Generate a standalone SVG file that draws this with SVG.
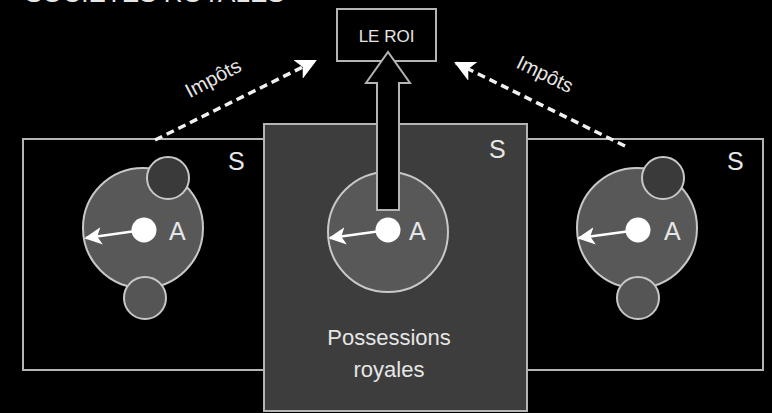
<svg xmlns="http://www.w3.org/2000/svg" width="772" height="413" viewBox="0 0 772 413">
<style>
text{font-family:"Liberation Sans",Arial,sans-serif;fill:#e6e6e6}
.box{stroke:#b4b4b4;stroke-width:2}
.big{fill:#585858;stroke:#c8c8c8;stroke-width:2}
.sm1{fill:#3a3a3a;stroke:#c8c8c8;stroke-width:2}
.sm2{fill:#555;stroke:#c8c8c8;stroke-width:2}
.dot{fill:#fff}
.lbl{font-size:25px}
.vec{stroke:#fff;stroke-width:2.5;fill:none}
.dash{stroke:#f0f0f0;stroke-width:3.5;stroke-dasharray:8 5;fill:none}
</style>
<defs>
<marker id="wh" viewBox="0 0 10 10" refX="9" refY="5" markerWidth="7" markerHeight="7" orient="auto" markerUnits="strokeWidth">
<path d="M0,0 L10,5 L0,10 L2.5,5 z" fill="#fff"/>
</marker>
<marker id="dh" viewBox="0 0 10 10" refX="9" refY="5" markerWidth="6" markerHeight="6" orient="auto" markerUnits="strokeWidth">
<path d="M0,0 L10,5 L0,10 L2.5,5 z" fill="#fff"/>
</marker>
</defs>
<rect width="772" height="413" fill="#000"/>
<text x="25" y="1.5" font-size="26">SOCIETES ROYALES</text>

<g id="left">
<rect class="box" x="23" y="139" width="241" height="231" fill="#000"/>
<text class="lbl" x="228" y="170">S</text>
<circle class="big" cx="143" cy="228" r="60"/>
<circle class="sm1" cx="168" cy="178" r="21"/>
<circle class="sm2" cx="145" cy="298" r="21"/>
<line class="vec" x1="143" y1="230" x2="86" y2="238" marker-end="url(#wh)"/>
<circle class="dot" cx="144" cy="230" r="12.5"/>
<text class="lbl" x="169" y="240">A</text>
</g>

<g id="right">
<rect class="box" x="527" y="139" width="236" height="231" fill="#000"/>
<text class="lbl" x="727" y="170">S</text>
<circle class="big" cx="637" cy="228" r="60"/>
<circle class="sm1" cx="663" cy="178" r="21"/>
<circle class="sm2" cx="638" cy="298" r="21"/>
<line class="vec" x1="638" y1="230" x2="579" y2="238" marker-end="url(#wh)"/>
<circle class="dot" cx="638" cy="230" r="12.5"/>
<text class="lbl" x="664" y="240">A</text>
</g>

<g id="center">
<rect class="box" x="264" y="124" width="263" height="287" fill="#3d3d3d"/>
<text class="lbl" x="489" y="158">S</text>
<circle class="big" cx="388" cy="232" r="60"/>
<line class="vec" x1="388" y1="230" x2="330" y2="238" marker-end="url(#wh)"/>
<circle class="dot" cx="388" cy="230" r="12.5"/>
<text class="lbl" x="409" y="240">A</text>
<text x="389" y="345" font-size="22" text-anchor="middle">Possessions</text>
<text x="389" y="377" font-size="22" text-anchor="middle">royales</text>
</g>

<g id="roi">
<rect class="box" x="337" y="9" width="99" height="52" fill="#000"/>
<text x="386.5" y="42" font-size="17" text-anchor="middle">LE ROI</text>
</g>

<g id="connectors">
<path d="M377,210 L377,83 L366,83 L388,52 L410,83 L399,83 L399,210 Z" fill="#000" stroke="#b4b4b4" stroke-width="2" stroke-linejoin="miter"/>
<line class="dash" x1="155" y1="140" x2="315" y2="61" marker-end="url(#dh)"/>
<line class="dash" x1="625" y1="146" x2="456" y2="63" marker-end="url(#dh)"/>
<text x="213" y="85" font-size="20" text-anchor="middle" transform="rotate(-28 213 78)">Impôts</text>
<text x="545" y="81" font-size="20" text-anchor="middle" transform="rotate(26 545 74)">Impôts</text>
</g>
</svg>
